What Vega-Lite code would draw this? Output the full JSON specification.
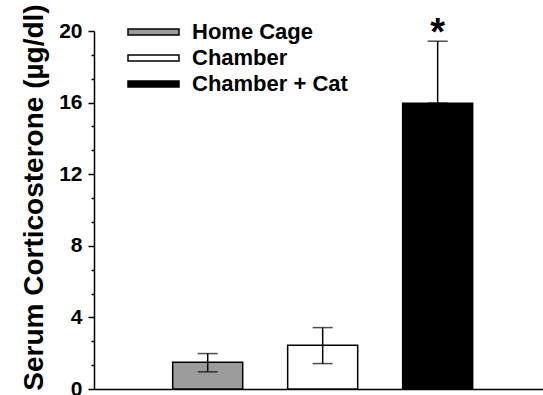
{
  "$schema": "https://vega.github.io/schema/vega-lite/v6.json",
  "autosize": {"type": "none"},
  "padding": {"left": 94, "top": 31, "right": 0, "bottom": 6},
  "width": 449,
  "height": 358,
  "background": "white",
  "config": {
    "view": {"stroke": null},
    "font": "Liberation Sans",
    "axis": {"labelFont": "Liberation Sans", "titleFont": "Liberation Sans"}
  },
  "data": {
    "values": [
      {"group": "Home Cage", "mean": 1.5, "lo": 0.96, "hi": 1.98, "sig": ""},
      {"group": "Chamber", "mean": 2.45, "lo": 1.42, "hi": 3.43, "sig": ""},
      {"group": "Chamber + Cat", "mean": 15.97, "lo": 15.97, "hi": 19.43, "sig": "*"}
    ]
  },
  "resolve": {"axis": {"y": "independent"}},
  "encoding": {
    "x": {
      "field": "group",
      "type": "nominal",
      "sort": ["Home Cage", "Chamber", "Chamber + Cat"],
      "scale": {"paddingInner": 0.391, "paddingOuter": 0.648, "align": 0.528},
      "axis": {"labels": false, "ticks": false, "title": null, "domainColor": "black", "domainWidth": 1.5}
    }
  },
  "layer": [
    {
      "mark": {"type": "bar", "stroke": "black", "strokeWidth": 1.5},
      "encoding": {
        "y": {
          "field": "mean",
          "type": "quantitative",
          "scale": {"domain": [0, 20], "nice": false, "zero": true},
          "axis": {
            "orient": "left",
            "offset": 0,
            "values": [0, 4, 8, 12, 16, 20],
            "format": "d",
            "labelOverlap": false,
            "labelBound": false,
            "labelFlush": false,
            "grid": false,
            "domainColor": "black",
            "domainWidth": 1.5,
            "tickColor": "black",
            "tickWidth": 1.5,
            "tickSize": 6,
            "labelPadding": 6,
            "labelFontSize": 21,
            "labelFontWeight": "bold",
            "labelColor": "black",
            "title": "Serum Corticosterone (µg/dl)",
            "titleFontSize": 28,
            "titleFontWeight": "bold",
            "titleColor": "black",
            "titleX": -60,
            "titleY": 166,
            "titleAngle": -90,
            "titleAlign": "center",
            "titleBaseline": "middle"
          }
        },
        "color": {
          "field": "group",
          "type": "nominal",
          "sort": ["Home Cage", "Chamber", "Chamber + Cat"],
          "scale": {"domain": ["Home Cage", "Chamber", "Chamber + Cat"], "range": ["#9c9c9c", "#ffffff", "#000000"]},
          "legend": {
            "title": null,
            "orient": "none",
            "legendX": 33,
            "legendY": -10,
            "symbolType": "M-1,-0.3H4.1V0.3H-1Z",
            "symbolSize": 400,
            "symbolStrokeColor": "black",
            "symbolStrokeWidth": 1.5,
            "symbolOpacity": 1,
            "labelFontSize": 22,
            "labelFontWeight": "bold",
            "labelColor": "black",
            "labelFont": "Liberation Sans",
            "labelOffset": 43,
            "rowPadding": 4,
            "padding": 0
          }
        }
      }
    },
    {
      "mark": {"type": "rule", "color": "black", "strokeWidth": 1.5},
      "encoding": {
        "y": {
          "field": "lo",
          "type": "quantitative",
          "axis": {
            "orient": "left",
            "offset": 0,
            "values": [1.3333, 2.6667, 5.3333, 6.6667, 9.3333, 10.6667, 13.3333, 14.6667, 17.3333, 18.6667],
            "labels": false,
            "domain": false,
            "grid": false,
            "tickColor": "black",
            "tickWidth": 1.5,
            "tickSize": 3,
            "title": null
          }
        },
        "y2": {"field": "hi"}
      }
    },
    {
      "mark": {"type": "tick", "color": "black", "size": 20, "thickness": 1.5, "orient": "horizontal"},
      "encoding": {"y": {"field": "hi", "type": "quantitative", "axis": null}}
    },
    {
      "mark": {"type": "tick", "color": "black", "size": 20, "thickness": 1.5, "orient": "horizontal"},
      "encoding": {"y": {"field": "lo", "type": "quantitative", "axis": null}}
    },
    {
      "mark": {"type": "text", "fontSize": 38, "fontWeight": "bold", "baseline": "alphabetic", "dy": 4, "color": "black", "font": "Liberation Sans"},
      "encoding": {
        "y": {"field": "hi", "type": "quantitative", "axis": null},
        "text": {"field": "sig"}
      }
    }
  ]
}
